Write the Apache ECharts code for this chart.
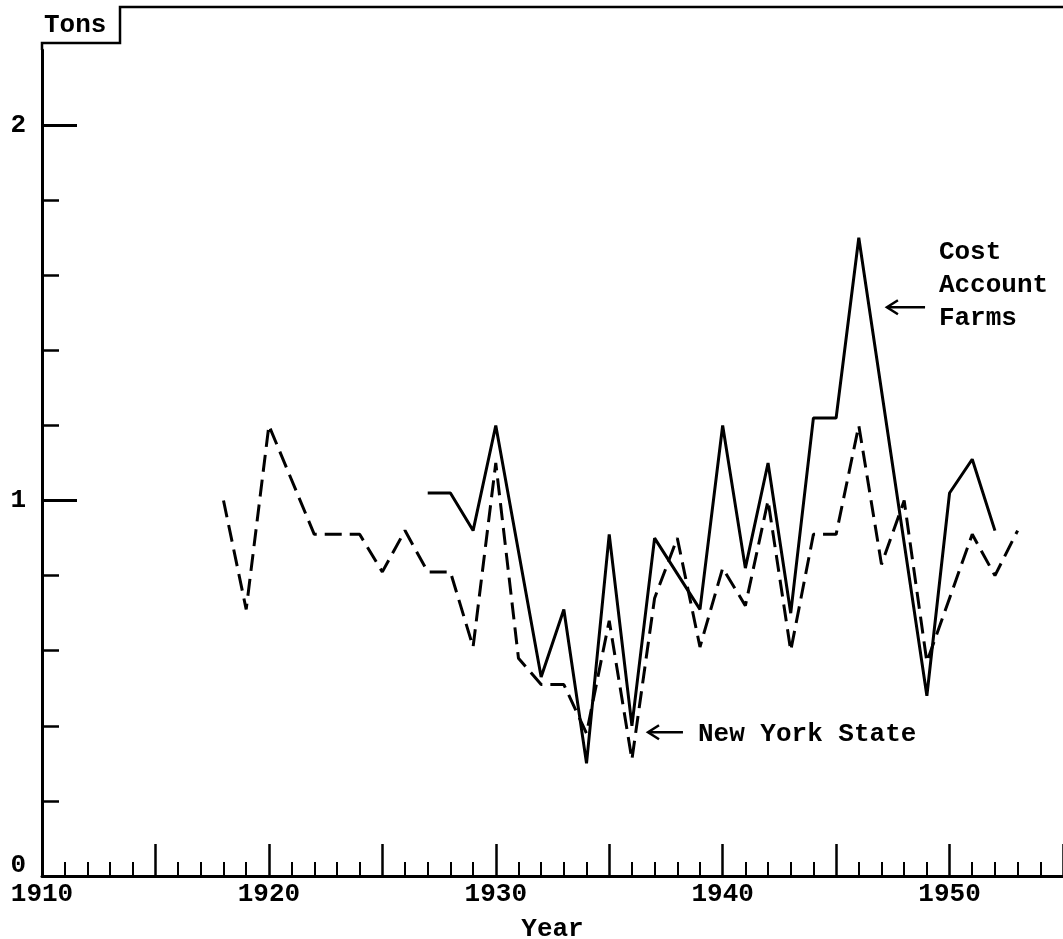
<!DOCTYPE html>
<html><head><meta charset="utf-8">
<script src="https://cdn.jsdelivr.net/npm/echarts@6/dist/echarts.min.js"></script>
<style>html,body{margin:0;padding:0;background:#fff}#c{width:1063px;height:939px}</style>
</head><body><div id="c"></div>
<script>
// Cost Account Farms (solid line)
const costYears  = [1927,1928,1929,1930,1932,1933,1934,1935,1936,1937,1939,1940,1941,1942,1943,1944,1945,1946,1949,1950,1951,1952];
const costValues = [1.02,1.02,0.92,1.20,0.53,0.71,0.30,0.91,0.40,0.90,0.71,1.20,0.82,1.10,0.70,1.22,1.22,1.70,0.48,1.02,1.11,0.92];
// New York State (dashed line)
const nyYears  = [1918,1919,1920,1922,1924,1925,1926,1927,1928,1929,1930,1931,1932,1933,1934,1935,1936,1937,1938,1939,1940,1941,1942,1943,1944,1945,1946,1947,1948,1949,1950,1951,1952,1953];
const nyValues = [1.00,0.71,1.20,0.91,0.91,0.81,0.92,0.81,0.81,0.61,1.10,0.58,0.51,0.51,0.38,0.68,0.31,0.74,0.90,0.61,0.82,0.72,1.00,0.60,0.91,0.91,1.20,0.83,1.00,0.57,0.74,0.91,0.80,0.92];
// Axis labels
const yearLabels = [1910,1920,1930,1940,1950];
const tonLabels = [0,1,2];
const majorYearTicks = [1915,1920,1925,1930,1935,1940,1945,1950,1955];
const majorTonTicks = [1,2];

const minorYearTicks = [];
for (let y = 1911; y <= 1955; y++) if (y % 5 !== 0) minorYearTicks.push(y);
const minorTonTicks = [0.2,0.4,0.6,0.8,1.2,1.4,1.6,1.8];

const FONT = 'Liberation Mono';
const FW = 'bold';
const BLACK = '#000';
const chart = echarts.init(document.getElementById('c'), null, {renderer: 'canvas'});

const baseX = {
  type: 'value', min: 1910, max: 1955, position: 'bottom',
  splitLine: {show: false}
};
const baseY = {
  type: 'value', min: 0, max: 2.2, position: 'left',
  splitLine: {show: false}
};

chart.setOption({
  animation: false,
  backgroundColor: '#fff',
  grid: {left: 42, right: 0, top: 50, bottom: 63, containLabel: false, outerBoundsMode: 'none'},
  xAxis: [
    Object.assign({}, baseX, {
      axisLine: {show: true, onZero: false, lineStyle: {color: BLACK, width: 3}},
      axisTick: {show: true, inside: true, length: 14, customValues: minorYearTicks, lineStyle: {color: BLACK, width: 2}},
      axisLabel: {show: true, customValues: yearLabels, margin: 5, color: BLACK,
        fontFamily: FONT, fontWeight: FW, fontSize: 26, formatter: v => String(v)},
      name: 'Year', nameLocation: 'middle', nameGap: 40,
      nameTextStyle: {color: BLACK, fontFamily: FONT, fontWeight: FW, fontSize: 26}
    }),
    Object.assign({}, baseX, {
      axisLine: {show: false},
      axisTick: {show: true, inside: true, length: 32, customValues: majorYearTicks, lineStyle: {color: BLACK, width: 2.5}},
      axisLabel: {show: false}
    })
  ],
  yAxis: [
    Object.assign({}, baseY, {
      axisLine: {show: true, onZero: false, lineStyle: {color: BLACK, width: 3}},
      axisTick: {show: true, inside: true, length: 17, customValues: minorTonTicks, lineStyle: {color: BLACK, width: 2.5}},
      axisLabel: {show: true, customValues: tonLabels, margin: 16, color: BLACK,
        fontFamily: FONT, fontWeight: FW, fontSize: 26,
        formatter: v => v === 0 ? '{z|0}' : String(v),
        rich: {z: {fontFamily: FONT, fontWeight: FW, fontSize: 26, color: BLACK, padding: [0, 0, 22, 0]}}},
      name: 'Tons', nameLocation: 'end', nameGap: 12,
      nameTextStyle: {color: BLACK, fontFamily: FONT, fontWeight: FW, fontSize: 26, align: 'left', padding: [0, 0, 0, 2]}
    }),
    Object.assign({}, baseY, {
      axisLine: {show: false},
      axisTick: {show: true, inside: true, length: 35, customValues: majorTonTicks, lineStyle: {color: BLACK, width: 3}},
      axisLabel: {show: false}
    })
  ],
  series: [
    {
      name: 'New York State', type: 'line', xAxisIndex: 0, yAxisIndex: 0,
      data: nyYears.map((y, i) => [y, nyValues[i]]),
      symbol: 'none', lineStyle: {color: BLACK, width: 3, type: [17, 8]}
    },
    {
      name: 'Cost Account Farms', type: 'line', xAxisIndex: 0, yAxisIndex: 0,
      data: costYears.map((y, i) => [y, costValues[i]]),
      symbol: 'none', lineStyle: {color: BLACK, width: 3}
    }
  ]
});

// Annotations anchored in data space
function px(x, y) { return chart.convertToPixel({xAxisIndex: 0, yAxisIndex: 0}, [x, y]); }
const yTopPx = px(1910, 2.2);
const costTxt = px(1949.53, 1.705);
const costArrowA = px(1948.92, 1.515);
const costArrowB = px(1947.24, 1.515);
const nyTxt = px(1938.91, 0.378);
const nyArrowA = px(1938.25, 0.383);
const nyArrowB = px(1936.71, 0.383);

function arrow(a, b) {
  return [
    {type: 'line', shape: {x1: a[0], y1: a[1], x2: b[0], y2: b[1]}, style: {stroke: BLACK, lineWidth: 2.5}},
    {type: 'polyline', shape: {points: [[b[0] + 11, b[1] - 7], [b[0], b[1]], [b[0] + 11, b[1] + 7]]}, style: {stroke: BLACK, lineWidth: 2.5, fill: null}}
  ];
}

chart.setOption({
  graphic: [
    {type: 'polyline', shape: {points: [[yTopPx[0], yTopPx[1]], [yTopPx[0], 43], [120, 43], [120, 7], [1063, 7]]},
     style: {stroke: BLACK, lineWidth: 2.5, fill: null}},
    {type: 'text', x: costTxt[0], y: costTxt[1],
     style: {text: 'Cost\nAccount\nFarms', fill: BLACK, font: 'bold 26px "Liberation Mono"', lineHeight: 33, verticalAlign: 'top', align: 'left'}},
    {type: 'text', x: nyTxt[0], y: nyTxt[1],
     style: {text: 'New York State', fill: BLACK, font: 'bold 26px "Liberation Mono"', verticalAlign: 'middle', align: 'left'}}
  ].concat(arrow(costArrowA, costArrowB), arrow(nyArrowA, nyArrowB))
});
</script>
</body></html>
